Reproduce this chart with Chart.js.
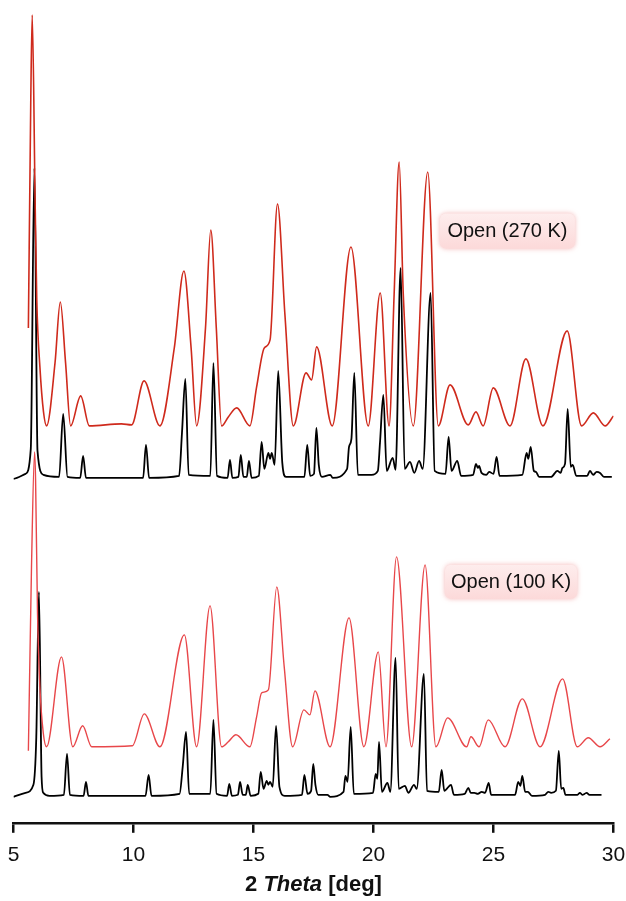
<!DOCTYPE html>
<html>
<head>
<meta charset="utf-8">
<script src="https://cdn.jsdelivr.net/npm/chart.js@4/dist/chart.umd.min.js"></script>
<style>
  html, body { margin: 0; padding: 0; background: #fff; }
  #wrap { width: 626px; height: 901px; }
</style>
</head>
<body>
<div id="wrap"><canvas id="xrd"></canvas></div>
<script>
/* ── Patterns: 2θ positions and intensities above each trace's own baseline ── */
const TT_RED_270 = [5.62, 5.72, 5.78, 5.9, 5.97, 6.1, 6.25, 6.38, 6.73, 6.95, 7.17, 7.38, 7.8, 8.16, 9.5, 9.92, 10.44, 11.1, 11.7, 12.1, 12.4, 12.63, 13.0, 13.22, 13.45, 13.67, 13.95, 14.3, 14.85, 15.13, 15.45, 15.69, 16.0, 16.31, 16.66, 17.19, 17.42, 17.63, 18.28, 19.06, 19.78, 20.28, 20.65, 20.86, 21.07, 21.24, 21.66, 22.26, 22.7, 23.19, 23.95, 24.27, 24.57, 24.99, 25.69, 26.35, 27.06, 28.07, 28.67, 29.16, 29.65, 30.0];
const I_RED_270  = [98, 326, 411, 226, 126, 59, 14, 0, 63, 124, 63, 0, 30, 0, 2, 1, 45, 0, 78, 155, 78, 0, 98, 196, 98, 0, 9, 18, 0, 39, 78, 86, 222, 111, 0, 53, 46, 79, 0, 179, 0, 133, 0, 132, 264, 132, 0, 254, 0, 41, 1, 14, 0, 38, 0, 67, 0, 95, 0, 13, 0, 10];

const TT_BLK_270 = [5.0, 5.5, 5.72, 5.87, 6.0, 6.25, 6.9, 7.07, 7.25, 7.78, 7.9, 8.02, 10.4, 10.52, 10.65, 11.9, 12.02, 12.16, 12.3, 13.2, 13.33, 13.48, 13.92, 14.02, 14.12, 14.37, 14.47, 14.58, 14.72, 14.81, 14.92, 15.22, 15.34, 15.45, 15.62, 15.69, 15.76, 15.88, 16.03, 16.2, 16.35, 17.12, 17.24, 17.36, 17.52, 17.62, 17.72, 17.85, 18.2, 18.3, 18.9, 18.98, 19.08, 19.2, 19.35, 19.92, 20.18, 20.27, 20.41, 20.55, 20.8, 20.92, 21.13, 21.3, 21.52, 21.7, 21.9, 22.05, 22.38, 22.55, 23.0, 23.13, 23.25, 23.49, 23.65, 24.15, 24.27, 24.35, 24.4, 24.5, 24.7, 24.82, 25.0, 25.13, 25.25, 26.2, 26.38, 26.45, 26.55, 26.68, 26.77, 26.9, 27.4, 27.66, 27.8, 27.87, 27.98, 28.09, 28.22, 28.3, 28.45, 28.9, 29.02, 29.15, 29.3, 29.44, 29.6, 29.93];
const I_BLK_270  = [0, 5, 30, 311, 28, 4, 2, 65, 2, 1, 23, 1, 1, 34, 1, 3, 46, 100, 4, 3, 116, 3, 1, 19, 1, 2, 24, 2, 2, 18, 1, 3, 37, 10, 26, 20, 26, 14, 108, 16, 2, 2, 34, 3, 5, 51, 14, 2, 4, 1, 10, 32, 40, 106, 4, 4, 8, 36, 84, 8, 21, 9, 211, 10, 17, 6, 18, 10, 186, 8, 5, 42, 8, 18, 3, 4, 15, 11, 13, 6, 4, 7, 5, 22, 3, 4, 26, 20, 32, 8, 7, 2, 2, 8, 6, 11, 15, 70, 12, 14, 3, 3, 8, 4, 7, 6, 2, 2];

const TT_RED_100 = [5.62, 5.75, 5.88, 5.92, 6.0, 6.1, 6.24, 6.38, 7.0, 7.47, 7.88, 8.26, 9.95, 10.45, 11.1, 12.12, 12.63, 13.19, 13.67, 13.95, 14.27, 14.85, 15.13, 15.34, 15.62, 15.97, 16.28, 16.63, 17.1, 17.35, 17.56, 18.19, 18.98, 19.6, 20.2, 20.52, 20.96, 21.59, 22.15, 22.6, 23.09, 23.88, 24.06, 24.4, 24.78, 25.48, 26.2, 26.94, 27.88, 28.49, 28.95, 29.44, 29.85];
const I_RED_100  = [-4, 180, 295, 267, 134, 60, 14, 0, 90, 0, 21, 0, 1, 33, 0, 112, 0, 141, 0, 5, 12, 0, 30, 54, 57, 160, 80, 0, 37, 32, 56, 0, 129, 0, 95, 0, 190, 0, 182, 0, 29, 0, 10, 0, 27, 0, 48, 0, 68, 0, 9, 0, 8];

const TT_BLK_100 = [5.0, 5.5, 5.83, 5.95, 6.06, 6.17, 6.24, 6.5, 7.1, 7.23, 7.35, 7.92, 8.02, 8.12, 10.5, 10.63, 10.75, 11.92, 12.05, 12.19, 12.32, 13.2, 13.33, 13.46, 13.9, 13.99, 14.1, 14.35, 14.44, 14.55, 14.68, 14.76, 14.88, 15.2, 15.3, 15.42, 15.55, 15.62, 15.69, 15.8, 15.94, 16.08, 16.3, 17.02, 17.12, 17.25, 17.4, 17.49, 17.58, 17.7, 18.08, 18.2, 18.75, 18.83, 18.92, 19.05, 19.18, 19.98, 20.09, 20.16, 20.23, 20.35, 20.58, 20.7, 20.92, 21.05, 21.31, 21.45, 21.69, 21.8, 22.1, 22.23, 22.72, 22.84, 22.95, 23.23, 23.35, 23.8, 23.95, 24.05, 24.2, 24.35, 24.51, 24.65, 24.8, 24.9, 25.9, 26.03, 26.12, 26.2, 26.32, 26.43, 26.6, 27.15, 27.28, 27.4, 27.6, 27.72, 27.82, 27.91, 28.0, 28.5, 28.6, 28.7, 28.8, 28.88, 29.0, 29.5];
const I_BLK_100  = [0, 4, 12, 60, 205, 20, 4, 1, 2, 43, 2, 1, 15, 1, 1, 22, 1, 3, 30, 65, 3, 3, 77, 3, 1, 13, 1, 2, 15, 2, 2, 12, 1, 3, 25, 8, 16, 12, 15, 10, 71, 10, 1, 2, 22, 3, 6, 33, 12, 2, 2, 0, 5, 21, 15, 70, 3, 4, 23, 18, 55, 5, 14, 5, 139, 8, 11, 4, 12, 8, 123, 6, 5, 27, 6, 12, 2, 3, 9, 4, 4, 3, 5, 4, 14, 2, 2, 15, 11, 21, 5, 5, 1, 2, 5, 4, 6, 46, 8, 9, 2, 2, 4, 2, 3, 4, 2, 2];

// vertical stacking offsets: red 270 K, black 270 K, red 100 K, black 100 K
const OFFSETS   = [397, 344, 76, 26];
const TAG_TEXT  = ['Open (270 K)', 'Open (100 K)'];
const X_TICKS   = [5, 10, 15, 20, 25, 30];

/* ── Helpers ── */
const FONT = '"Liberation Sans", Arial, Helvetica, sans-serif';

function stack(tt, inten, offset) {
  return tt.map((t, i) => ({ x: t, y: inten[i] + offset }));
}

function trace(data, color, width) {
  return {
    data,
    borderColor:            color,
    borderWidth:            width,
    pointRadius:            0,
    fill:                   false,
    cubicInterpolationMode: 'monotone',
  };
}

/* ── Rounded pink tags beside each pair of patterns ── */
const tagPlugin = {
  id: 'seriesTags',
  afterDatasetsDraw(chart, args, opts) {
    const { ctx, scales: { x, y } } = chart;
    opts.items.forEach(it => {
      const cx = x.getPixelForValue(it.x);
      const cy = y.getPixelForValue(it.y);
      const w = it.w, h = it.h;
      const left = cx - w / 2, top = cy - h / 2;

      ctx.save();
      ctx.shadowColor = 'rgba(235,120,120,0.55)';
      ctx.shadowBlur  = 5;
      ctx.fillStyle   = '#fde3e3';
      ctx.beginPath();
      ctx.roundRect(left, top, w, h, 6);
      ctx.fill();
      ctx.restore();

      ctx.save();
      const g = ctx.createLinearGradient(0, top, 0, top + h);
      g.addColorStop(0, 'rgba(255,255,255,0.35)');
      g.addColorStop(1, 'rgba(250,200,200,0.35)');
      ctx.fillStyle = g;
      ctx.beginPath();
      ctx.roundRect(left, top, w, h, 6);
      ctx.fill();

      ctx.fillStyle    = '#111';
      ctx.font         = '20px ' + FONT;
      ctx.textAlign    = 'center';
      ctx.textBaseline = 'middle';
      ctx.fillText(it.text, cx, cy + 1);
      ctx.restore();
    });
  },
};

/* ── Axis title with italic "Theta" ── */
const titlePlugin = {
  id: 'thetaTitle',
  afterDraw(chart, args, opts) {
    const { ctx, chartArea } = chart;
    const parts = [
      { t: '2 ',     f: 'bold 22px ' + FONT },
      { t: 'Theta',  f: 'italic bold 22px ' + FONT },
      { t: ' [deg]', f: 'bold 22px ' + FONT },
    ];
    ctx.save();
    let total = 0;
    parts.forEach(p => { ctx.font = p.f; p.w = ctx.measureText(p.t).width; total += p.w; });
    let xx = (chartArea.left + chartArea.right) / 2 - total / 2;
    ctx.fillStyle    = '#111';
    ctx.textBaseline = 'middle';
    ctx.textAlign    = 'left';
    parts.forEach(p => { ctx.font = p.f; ctx.fillText(p.t, xx, opts.y); xx += p.w; });
    ctx.restore();
  },
};

/* ── Chart ── */
new Chart(document.getElementById('xrd'), {
  type: 'line',
  plugins: [tagPlugin, titlePlugin],
  data: {
    datasets: [
      trace(stack(TT_RED_100, I_RED_100, OFFSETS[2]), '#e8474a', 1.4),
      trace(stack(TT_RED_270, I_RED_270, OFFSETS[0]), '#cf2a1c', 1.6),
      trace(stack(TT_BLK_100, I_BLK_100, OFFSETS[3]), '#000',    1.8),
      trace(stack(TT_BLK_270, I_BLK_270, OFFSETS[1]), '#000',    1.8),
    ],
  },
  options: {
    responsive:          true,
    maintainAspectRatio: false,
    animation:           false,
    layout: { padding: { left: 13.5, right: 12.5, top: 0, bottom: 23 } },
    plugins: {
      legend:  { display: false },
      tooltip: { enabled: false },
      seriesTags: {
        items: [
          { text: TAG_TEXT[0], x: 25.58, y: 592, w: 135, h: 35 },
          { text: TAG_TEXT[1], x: 25.73, y: 241, w: 132, h: 34 },
        ],
      },
      thetaTitle: { y: 885 },
    },
    scales: {
      x: {
        type: 'linear',
        min:  5,
        max:  30,
        afterBuildTicks: axis => { axis.ticks = X_TICKS.map(v => ({ value: v })); },
        // let the end labels hang past the plot edges
        afterFit: axis => { axis.paddingLeft = 0; axis.paddingRight = 0; },
        border: { display: true, color: '#111', width: 2.5 },
        grid: {
          drawOnChartArea: false,
          drawTicks:       true,
          tickLength:      10,
          color:           '#111',
          lineWidth:       2.5,
        },
        ticks: {
          color:       '#111',
          padding:     10,
          maxRotation: 0,
          font:        { family: FONT, size: 21 },
        },
      },
      y: {
        display: false,
        min:     0,
        max:     823,
      },
    },
  },
});
</script>
</body>
</html>
